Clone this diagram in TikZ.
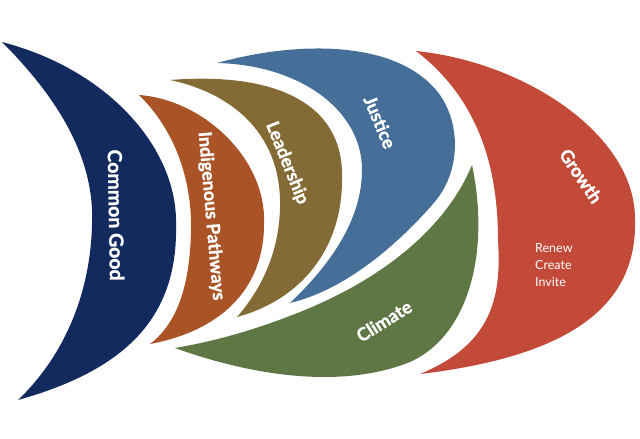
\documentclass[tikz,border=0pt]{standalone}
\usepackage{fontspec}
\setmainfont{Lato}
\newfontfamily\lblfont{Lato}[BoldFeatures={FakeBold=1.3}]
\definecolor{cNavy}{HTML}{132A5F}
\definecolor{cOrange}{HTML}{A95326}
\definecolor{cOlive}{HTML}{846A35}
\definecolor{cBlue}{HTML}{456F99}
\definecolor{cGreen}{HTML}{5E7745}
\definecolor{cRed}{HTML}{C34A38}
\tikzset{
  lbl/.style={text=white,inner sep=0pt,font={\lblfont\fontsize{18}{20}\selectfont\bfseries}},
  biglbl/.style={lbl,font={\lblfont\fontsize{19.5}{22}\selectfont\bfseries}},
  rcitext/.style={anchor=north west,align=left,inner sep=0pt,text=white,
     font={\fontsize{12.5}{17}\selectfont}}
}
\begin{document}
\begin{tikzpicture}[x=1pt,y=-1pt]
\useasboundingbox (0,0) rectangle (640,439);
% Common Good
\fill[cNavy] (2,42) .. controls (60,100) and (95,160) .. (92,225)
  .. controls (90,300) and (60,360) .. (18,400)
  .. controls (125,370) and (178,318) .. (176,225)
  .. controls (178,150) and (110,70) .. (2,42) -- cycle;
% Indigenous Pathways
\fill[cOrange] (139,95) .. controls (175,130) and (192,180) .. (191,230)
  .. controls (190,290) and (175,325) .. (150,344)
  .. controls (225,330) and (265,285) .. (264,222)
  .. controls (266,160) and (205,100) .. (139,95) -- cycle;
% Leadership
\fill[cOlive] (170,80) .. controls (270,72) and (345,100) .. (342,180)
  .. controls (342,250) and (300,300) .. (237,317)
  .. controls (265,285) and (281,245) .. (280,200)
  .. controls (279,140) and (240,95) .. (170,80) -- cycle;
% Justice
\fill[cBlue] (217,63) .. controls (300,40) and (400,40) .. (440,95)
  .. controls (462,127) and (460,175) .. (432,205)
  .. controls (397,245) and (345,290) .. (290,303)
  .. controls (330,265) and (362,220) .. (362,170)
  .. controls (362,110) and (300,65) .. (217,63) -- cycle;
% Climate
\fill[cGreen] (175,348) .. controls (250,375) and (340,390) .. (410,362)
  .. controls (470,335) and (490,250) .. (472,165)
  .. controls (445,230) and (380,280) .. (300,312)
  .. controls (250,332) and (210,342) .. (175,348) -- cycle;
% Growth
\fill[cRed] (416,51) .. controls (525,62) and (636,135) .. (635,220)
  .. controls (637,300) and (580,355) .. (420,374)
  .. controls (490,345) and (502,300) .. (498,240)
  .. controls (498,170) and (480,100) .. (416,51) -- cycle;
% labels
\node[biglbl,rotate=-89] (cg) at (116,215) {Common Good};
\node[lbl,rotate=-85] (ip) at (211,216) {Indigenous Pathways};
\node[lbl,rotate=-68] (ld) at (287,163) {Leadership};
\node[lbl,rotate=-67] (js) at (380,122) {Justice};
\node[lbl,rotate=-56] (gr) at (581,176) {Growth};
\node[lbl,rotate=32] (cl) at (384,321) {Climate};
\node[rcitext] (rci) at (535,243) {Renew\\Create\\Invite};
\end{tikzpicture}
\end{document}
